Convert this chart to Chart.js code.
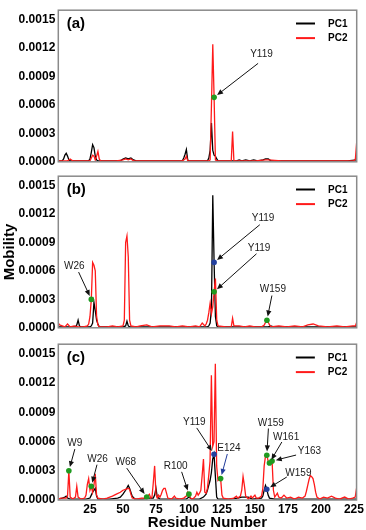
<!DOCTYPE html>
<html><head><meta charset="utf-8">
<script src="https://cdn.jsdelivr.net/npm/chart.js@4/dist/chart.umd.min.js"></script>
<style>
html,body{margin:0;padding:0;background:#fff;}
#wrap{position:relative;width:366px;height:530px;overflow:hidden;background:#fff;}
canvas{position:absolute;left:0;}
</style></head><body>
<div id="wrap">
<canvas id="ca" style="top:0px;width:366px;height:172px" width="366" height="172"></canvas>
<canvas id="cb" style="top:166px;width:366px;height:172px" width="366" height="172"></canvas>
<canvas id="cc" style="top:334px;width:366px;height:196px" width="366" height="196"></canvas>
</div>
<script>
// ---------- data (residue, mobility) ----------
const seriesNames = ['PC1', 'PC2'];
const xTicksStep = 25;
const yTicksStep = 0.0003;

const pc1A = [[1,0.00001],[4,0.00001],[5,0.00003],[6,0.00007],[7,0.00009],[8,0.00006],[9,0.00002],[10,0.00001],[15,0.00001],[20,0.00001],[24,0.00001],[25,0.00003],[26,0.0001],[27,0.00018],[28,0.00015],[29,0.00006],[30,0.00002],[31,0.00001],[40,0.00001],[48,0.00001],[50,0.00003],[52,0.00004],[54,0.00003],[56,0.00004],[58,0.00002],[60,0.00001],[70,0.00001],[80,0.00001],[90,0.00001],[95,0.00001],[96,0.00004],[97,0.00008],[98,0.00013],[99,0.00002],[100,0.00001],[110,0.00001],[114,0.00001],[115,0.00004],[116,0.00012],[117,0.00041],[118,0.00012],[119,0.00007],[120,0.00006],[121,0.00003],[122,0.00001],[130,0.00001],[136,0.00001],[138,0.00002],[140,0.00001],[143,0.00002],[146,0.00001],[149,0.00002],[152,0.00001],[156,0.00002],[158,0.00003],[160,0.00003],[162,0.00001],[170,0.00001],[180,0.00001],[190,0.00001],[200,0.00001],[210,0.00001],[220,0.00001],[227,0.00002]];
const pc2A = [[1,0.00001],[5,0.00001],[8,0.00001],[9,0.00002],[10,0.00003],[11,0.00002],[12,0.00001],[20,0.00001],[25,0.00001],[26,0.00004],[27,0.00007],[28,0.00006],[29,0.00002],[30,0.00006],[31,0.00011],[32,0.00003],[33,0.00001],[45,0.00001],[50,0.00002],[52,0.00003],[54,0.00002],[56,0.00003],[58,0.00001],[70,0.00001],[85,0.00001],[95,0.00001],[96,0.00002],[97,0.00003],[98,0.00006],[99,0.00001],[110,0.00001],[115,0.00001],[116,0.00002],[117,0.0006],[118,0.00124],[119,0.00068],[120,0.00002],[121,0.00001],[130,0.00001],[132,0.00001],[133,0.00032],[134,0.00001],[140,0.00001],[150,0.00001],[158,0.00002],[160,0.00002],[170,0.00001],[185,0.00001],[200,0.00001],[215,0.00001],[225,0.00001],[226,0.00003],[227,0.00021]];

const pc1B = [[1,0.00001],[10,0.00001],[14,0.00001],[15,0.00003],[16,0.00008],[17,0.00002],[18,0.00001],[25,0.00001],[26,0.00002],[27,0.00005],[28,0.00027],[29,0.00018],[30,0.00008],[31,0.00004],[32,0.00001],[45,0.00001],[50,0.00001],[52,0.00002],[53,0.00007],[54,0.00002],[55,0.00001],[70,0.00001],[90,0.00001],[110,0.00001],[114,0.00001],[115,0.00002],[116,0.00005],[117,0.0002],[118,0.0014],[119,0.00069],[120,0.00012],[121,0.00002],[122,0.00001],[140,0.00001],[160,0.00001],[162,0.00002],[164,0.00001],[180,0.00001],[200,0.00001],[227,0.00001]];
const pc2B = [[1,0.00005],[2,0.00003],[4,0.00002],[6,0.00001],[8,0.00004],[10,0.00001],[13,0.00002],[16,0.00001],[20,0.00001],[23,0.00002],[24,0.00004],[25,0.00012],[26,0.0003],[27,0.00069],[28,0.00066],[29,0.0006],[30,0.00012],[31,0.00003],[32,0.00001],[38,0.00001],[42,0.00002],[46,0.00001],[50,0.00002],[51,0.00008],[52,0.0009],[53,0.00097],[54,0.00075],[55,0.00008],[56,0.00002],[60,0.00001],[63,0.00002],[68,0.00003],[72,0.00001],[78,0.00002],[85,0.00002],[90,0.00001],[95,0.00002],[100,0.00001],[105,0.00002],[108,0.00001],[110,0.00005],[112,0.00002],[113,0.00004],[114,0.00008],[115,0.00016],[116,0.00026],[117,0.00015],[118,0.00022],[119,0.00038],[120,0.00052],[121,0.00008],[122,0.00002],[128,0.00001],[132,0.00001],[133,0.0001],[134,0.00002],[138,0.00002],[142,0.00001],[146,0.00002],[150,0.00001],[155,0.00001],[157,0.00003],[158,0.00006],[159,0.00008],[160,0.00006],[161,0.00003],[162,0.00001],[168,0.00002],[174,0.00001],[180,0.00002],[186,0.00001],[190,0.00003],[194,0.00004],[198,0.00002],[205,0.00001],[212,0.00002],[218,0.00001],[224,0.00002],[226,0.00002],[227,0.00006]];

const pc1C = [[1,0.00001],[4,0.00002],[6,0.00003],[7,0.00004],[8,0.00002],[10,0.00001],[15,0.00001],[22,0.00001],[25,0.00002],[26,0.00005],[27,0.00008],[28,0.0001],[29,0.00012],[30,0.00004],[31,0.00001],[40,0.00001],[46,0.00002],[48,0.00003],[50,0.00006],[52,0.0001],[54,0.00015],[55,0.00012],[57,0.00004],[59,0.00001],[65,0.00001],[70,0.00002],[73,0.00002],[74,0.00005],[75,0.00012],[76,0.00003],[78,0.00001],[90,0.00001],[98,0.00001],[100,0.00003],[102,0.00001],[108,0.00001],[111,0.00003],[113,0.00006],[114,0.0001],[115,0.00015],[116,0.0002],[117,0.00028],[118,0.00042],[119,0.00047],[120,0.00025],[121,0.00003],[122,0.00001],[130,0.00001],[137,0.00002],[140,0.00003],[145,0.00003],[148,0.00001],[155,0.00002],[156,0.00004],[157,0.0001],[158,0.00015],[159,0.00011],[160,0.00005],[161,0.00002],[165,0.00001],[180,0.00001],[200,0.00001],[227,0.00001]];
const pc2C = [[1,0.00001],[3,0.00002],[5,0.00002],[7,0.00002],[8,0.00004],[9,0.0003],[10,0.00003],[12,0.00001],[14,0.00003],[15,0.00014],[16,0.00003],[18,0.00001],[21,0.00002],[22,0.00005],[23,0.00016],[24,0.00022],[25,0.0001],[26,0.00014],[27,0.00008],[28,0.00015],[29,0.00027],[30,0.00005],[31,0.00002],[35,0.00001],[38,0.00002],[42,0.00004],[45,0.00006],[48,0.00008],[50,0.0001],[52,0.00011],[54,0.00012],[55,0.00011],[56,0.00006],[57,0.00002],[60,0.00001],[64,0.00002],[66,0.00002],[68,0.00003],[70,0.00006],[71,0.00002],[72,0.00003],[73,0.00018],[74,0.00035],[75,0.00006],[76,0.00002],[77,0.00005],[78,0.00003],[79,0.00006],[80,0.0001],[81,0.00012],[82,0.00012],[83,0.00007],[84,0.00002],[87,0.00001],[89,0.00004],[90,0.00002],[93,0.00001],[96,0.00002],[98,0.00004],[99,0.00008],[100,0.00006],[101,0.00002],[103,0.00001],[105,0.00004],[106,0.00008],[107,0.00005],[108,0.00007],[109,0.0001],[110,0.00025],[111,0.00042],[112,0.00008],[113,0.00007],[114,0.00012],[115,0.00025],[116,0.0004],[117,0.00128],[118,0.00055],[119,0.0006],[120,0.0014],[121,0.00035],[122,0.0002],[123,0.00021],[124,0.00022],[125,0.00005],[126,0.00002],[130,0.00001],[134,0.00002],[136,0.00004],[137,0.00002],[139,0.00004],[140,0.0001],[141,0.00024],[142,0.00015],[143,0.00004],[145,0.00001],[147,0.00004],[148,0.00002],[150,0.00005],[151,0.00002],[153,0.00002],[155,0.00004],[156,0.00012],[157,0.00035],[158,0.00045],[159,0.00046],[160,0.0004],[161,0.00038],[162,0.00039],[163,0.0004],[164,0.0001],[165,0.00003],[167,0.00007],[168,0.00003],[170,0.00002],[172,0.00005],[174,0.00002],[177,0.00003],[180,0.00001],[183,0.00003],[186,0.00002],[188,0.00004],[189,0.00009],[190,0.00015],[191,0.00021],[192,0.00025],[193,0.00024],[194,0.00022],[195,0.00016],[196,0.00008],[197,0.00003],[199,0.00001],[202,0.00003],[205,0.00002],[208,0.00004],[211,0.00002],[214,0.00001],[218,0.00003],[221,0.00001],[224,0.00002],[226,0.00003],[227,0.00012]];

// marked residues: label, residue, series the dot sits on
const markersA = [['Y119',119,'PC2']];
const markersB = [['W26',26,'PC2'],['Y119',119,'PC1'],['Y119',119,'PC2'],['W159',159,'PC2']];
const markersC = [['W9',9,'PC2'],['W26',26,'PC2'],['W68',68,'PC2'],['R100',100,'PC2'],['Y119',119,'PC1'],['E124',124,'PC2'],['W159',159,'PC2'],['W161',161,'PC2'],['Y163',163,'PC2'],['W159',159,'PC1']];

// ---------- styling ----------
const FONT = "'Liberation Sans', Arial, Helvetica, sans-serif";
const COLORS = {PC1:'#000000', PC2:'#ff1a1a'};
const DOT = {PC1:'#23409e', PC2:'#1f9a1f'};
// annotation placement in pixels relative to the dot: [labelDx, labelDy, arrowStartDx, arrowStartDy, arrowColor]
const annA = [[47.4,-43.3,44,-34]];
const annB = [[-17,-33.3,-12.7,-27.3],[49,-44.4,45.7,-37.7],[45,-44,42.4,-38],[6,-31.3,5,-24.7]];
const annC = [[6,-27.3,6,-21.7],[6.3,-27.3,5.7,-21.7],[-21,-34.6,-20,-29],[-13.3,-28,-7.3,-22.3],[-19.7,-32.3,-17.3,-26.3],[8.3,-30.6,6.7,-24.6,'#1f3a9a'],[4,-32.3,1.6,-26.7],[16.7,-25.7,12.4,-21],[37.3,-10,24,-6],[31.6,-16.3,20,-12.3]];

function toXY(p){ return p.map(q => ({x:q[0], y:q[1]})); }
function valAt(p, r){ const q = p.find(e => e[0] === r); return q ? q[1] : 0; }

function makePanel(id, letter, pc1, pc2, markers, ann, o) {
  const series = {PC1: pc1, PC2: pc2};
  const mPts = markers.map(m => ({x:m[1], y:valAt(series[m[2]], m[1])}));
  const mCols = markers.map(m => DOT[m[2]]);
  const decor = {
    id: 'decor' + letter,
    afterDatasetsDraw(chart) {
      const ctx = chart.ctx, a = chart.chartArea;
      const xs = chart.scales.x, ys = chart.scales.y;
      ctx.save();
      // frame
      ctx.strokeStyle = '#8a8a8a'; ctx.lineWidth = 1.5;
      ctx.strokeRect(a.left, a.top, a.right - a.left, a.bottom - a.top);
      // panel letter
      ctx.fillStyle = '#000'; ctx.font = 'bold 15px ' + FONT;
      ctx.textAlign = 'left'; ctx.textBaseline = 'middle';
      ctx.fillText('(' + letter + ')', a.left + 8.4, a.top + 13.5);
      // legend
      seriesNames.forEach((n, i) => {
        const y = a.top + 13.3 + i * 14.6;
        ctx.strokeStyle = COLORS[n]; ctx.lineWidth = 2;
        ctx.beginPath(); ctx.moveTo(a.right - 60.7, y); ctx.lineTo(a.right - 41.7, y); ctx.stroke();
        ctx.fillStyle = '#000'; ctx.font = 'bold 10px ' + FONT;
        ctx.fillText(n, a.right - 28.7, y + 0.5);
      });
      // annotations
      markers.forEach((m, i) => {
        const s = ann[i];
        const px = xs.getPixelForValue(mPts[i].x), py = ys.getPixelForValue(mPts[i].y);
        ctx.fillStyle = '#1a1a1a'; ctx.font = '10px ' + FONT;
        ctx.textAlign = 'center'; ctx.textBaseline = 'middle';
        ctx.fillText(m[0], px + s[0], py + s[1]);
        const sx = px + s[2], sy = py + s[3];
        const dx = px - sx, dy = py - sy, L = Math.hypot(dx, dy);
        const ux = dx / L, uy = dy / L;
        const ex = px - ux * 3.8, ey = py - uy * 3.8;
        const hl = 6, hw = 2.6;
        const col = s[4] || '#111';
        ctx.strokeStyle = col; ctx.fillStyle = col; ctx.lineWidth = 1;
        ctx.beginPath(); ctx.moveTo(sx, sy); ctx.lineTo(ex - ux * hl * 0.8, ey - uy * hl * 0.8); ctx.stroke();
        ctx.beginPath();
        ctx.moveTo(ex, ey);
        ctx.lineTo(ex - ux * hl - uy * hw, ey - uy * hl + ux * hw);
        ctx.lineTo(ex - ux * hl + uy * hw, ey - uy * hl - ux * hw);
        ctx.closePath(); ctx.fill();
      });
      ctx.restore();
    }
  };
  const tickFont = {family: FONT, size: 12, weight: 'bold'};
  return new Chart(document.getElementById(id), {
    type: 'line',
    data: {
      datasets: [
        {type:'scatter', data: mPts, pointRadius: 2.8, pointBackgroundColor: mCols, pointBorderColor: mCols, pointBorderWidth: 0, showLine: false},
        {label:'PC2', data: toXY(pc2), borderColor: COLORS.PC2, borderWidth: 1.3, pointRadius: 0, tension: 0, fill: false},
        {label:'PC1', data: toXY(pc1), borderColor: COLORS.PC1, borderWidth: 1.3, pointRadius: 0, tension: 0, fill: false}
      ]
    },
    options: {
      responsive: false, animation: false, devicePixelRatio: 1,
      layout: {padding: {top: o.padTop, right: 9.3, left: 0, bottom: 0}},
      plugins: {legend: {display: false}, tooltip: {enabled: false}},
      scales: {
        x: {type: 'linear', min: 1, max: 227,
            grid: {display: false, drawTicks: false}, border: {display: false},
            ticks: {display: o.showX, stepSize: xTicksStep, includeBounds: false, padding: 2, autoSkip: false, maxRotation: 0, color: '#000', font: tickFont},
            title: {display: o.showX, text: 'Residue Number', color: '#000', font: {family: FONT, size: 15, weight: 'bold', lineHeight: 1}, padding: {top: 0, bottom: 0}},
            afterFit(s) { s.height = o.xHeight; }},
        y: {type: 'linear', min: 0, max: 0.0016,
            grid: {display: false, drawTicks: false}, border: {display: false},
            ticks: {stepSize: yTicksStep, includeBounds: false, padding: 3, color: '#000', font: tickFont, callback: v => Number(v).toFixed(4)},
            title: {display: o.yTitle, text: 'Mobility', color: '#000', font: {family: FONT, size: 15, weight: 'bold', lineHeight: 1}, padding: {top: 2.5, bottom: 0}},
            afterFit(s) { s.width = 58.3; }}
      }
    },
    plugins: [decor]
  });
}

makePanel('ca', 'a', pc1A, pc2A, markersA, annA, {padTop: 3, xHeight: 8, showX: false, yTitle: false});
makePanel('cb', 'b', pc1B, pc2B, markersB, annB, {padTop: 4, xHeight: 5.7, showX: false, yTitle: true});
makePanel('cc', 'c', pc1C, pc2C, markersC, annC, {padTop: 4, xHeight: 30, showX: true, yTitle: false});
</script>
</body></html>
